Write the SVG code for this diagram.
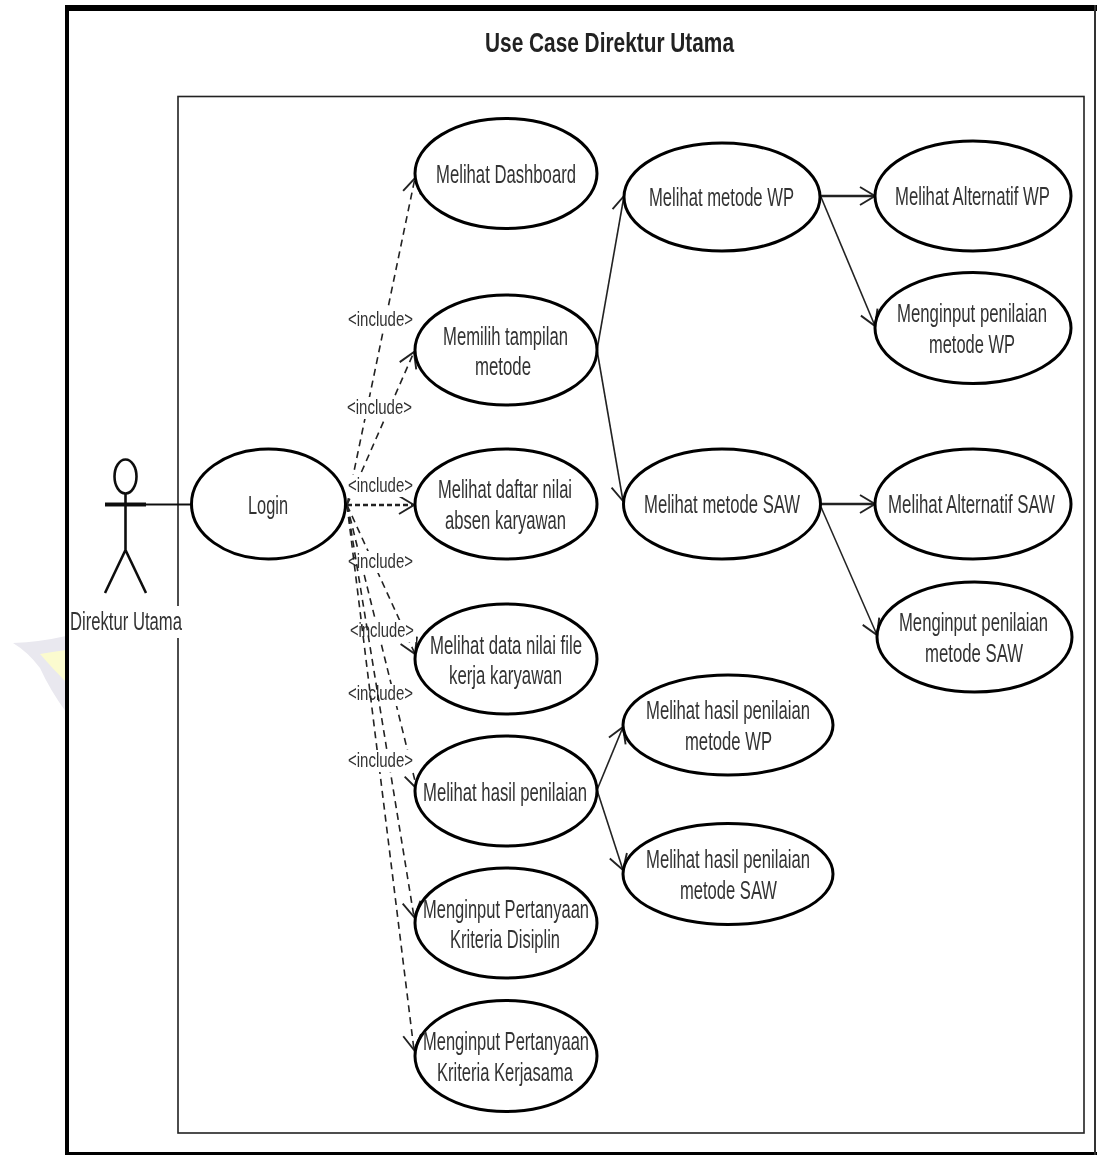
<svg xmlns="http://www.w3.org/2000/svg" width="1097" height="1155" viewBox="0 0 1097 1155">
<style>
text{font-family:"Liberation Sans",Arial,sans-serif;fill:#333}
.t{font-size:25px}
.lb{font-size:20px}
.title{font-size:27px;font-weight:bold;fill:#222}
.uc{fill:#fff;stroke:#000;stroke-width:3}
.s{fill:none;stroke:#222;stroke-width:1.6;marker-end:url(#open)}
.s2{stroke-width:2.6}
.d{fill:none;stroke:#222;stroke-width:1.6;stroke-dasharray:7 5;marker-end:url(#open)}
.d2{stroke-width:2.6;stroke-dasharray:5 3}
.bg{fill:#fff}
.ac{fill:none;stroke:#111;stroke-width:2.6}
</style>
<defs>
<marker id="open" markerUnits="userSpaceOnUse" markerWidth="20" markerHeight="24" refX="16" refY="12" orient="auto">
<path d="M1 3 L16 12 L1 21" fill="none" stroke="#222" stroke-width="1.9"/>
</marker>
<filter id="soft" filterUnits="userSpaceOnUse" x="0" y="0" width="1097" height="1155"><feGaussianBlur stdDeviation="0.45"/></filter>
</defs>
<rect width="1097" height="1155" fill="#fff"/>
<g filter="url(#soft)">
<g id="watermark">
<path d="M13 643 Q40 642 66 636 V712 Q50 690 40 668 Q28 652 13 643Z" fill="#e9e8ef"/>
<path d="M40 654 Q52 652 66 650 V682 Q52 668 40 654Z" fill="#fbfbcf"/>
</g>
<g id="frame">
<rect x="65" y="5" width="1032" height="6" fill="#000"/>
<rect x="65" y="5" width="4" height="1150" fill="#000"/>
<rect x="65" y="1152" width="1032" height="3" fill="#000"/>
<rect x="1094" y="5" width="2" height="1150" fill="#333"/>
<text class="title" x="485" y="52" textLength="249" lengthAdjust="spacingAndGlyphs">Use Case Direktur Utama</text>
<rect x="178" y="96.5" width="906" height="1036.5" fill="none" stroke="#222" stroke-width="1.6"/>
</g>
<g id="connectors">
<line x1="146" y1="504.5" x2="192" y2="504.5" stroke="#111" stroke-width="2"/>
<path class="d" d="M347 505 L415 178"/>
<path class="d" d="M347 505 L414 352"/>
<path class="d d2" d="M347 505 L414 505"/>
<path class="d" d="M347 505 L415 654"/>
<path class="d" d="M347 505 L417 789"/>
<path class="s" d="M597 350 L624 196"/>
<path class="s" d="M597 350 L623 501"/>
<path class="s s2" d="M821 196 L875 196"/>
<path class="s" d="M821 197 L875 326"/>
<path class="s s2" d="M821 504 L875 504"/>
<path class="s" d="M821 507 L877 635"/>
<path class="s" d="M597 790 L623 727"/>
<path class="s" d="M597 790 L623 870"/>
<g>
<rect class="bg" x="346" y="309" width="69" height="22"/><text class="lb" x="348" y="326" textLength="65" lengthAdjust="spacingAndGlyphs">&lt;include&gt;</text>
<rect class="bg" x="345" y="397" width="69" height="22"/><text class="lb" x="347" y="414" textLength="65" lengthAdjust="spacingAndGlyphs">&lt;include&gt;</text>
<rect class="bg" x="346" y="475" width="69" height="22"/><text class="lb" x="348" y="492" textLength="65" lengthAdjust="spacingAndGlyphs">&lt;include&gt;</text>
<rect class="bg" x="346" y="551" width="69" height="22"/><text class="lb" x="348" y="568" textLength="65" lengthAdjust="spacingAndGlyphs">&lt;include&gt;</text>
<rect class="bg" x="348" y="620" width="68" height="22"/><text class="lb" x="350" y="637" textLength="64" lengthAdjust="spacingAndGlyphs">&lt;include&gt;</text>
<rect class="bg" x="346" y="684" width="69" height="22"/><text class="lb" x="348" y="700" textLength="65" lengthAdjust="spacingAndGlyphs">&lt;include&gt;</text>
</g>
<path class="d" d="M347 505 L414 917"/>
<path class="d" d="M347 505 L414 1050"/>
<rect class="bg" x="346" y="750" width="69" height="22"/><text class="lb" x="348" y="767" textLength="65" lengthAdjust="spacingAndGlyphs">&lt;include&gt;</text>
</g>
<g id="actor">
<ellipse class="ac" cx="125.5" cy="476.5" rx="11" ry="17"/>
<path class="ac" d="M125.5 494 V550 M125.5 550 L105 593 M125.5 550 L146 593"/>
<line x1="105" y1="504.5" x2="146" y2="504.5" stroke="#111" stroke-width="4"/>
<rect class="bg" x="69" y="606" width="113" height="32"/>
<text class="t" x="70" y="630" textLength="112" lengthAdjust="spacingAndGlyphs">Direktur Utama</text>
</g>
<g id="login"><ellipse class="uc" cx="268.5" cy="504" rx="77" ry="55"/><text class="t" x="248" y="514" textLength="40" lengthAdjust="spacingAndGlyphs">Login</text></g>
<g id="dashboard"><ellipse class="uc" cx="506" cy="173.5" rx="91" ry="55"/><text class="t" x="436" y="183" textLength="140" lengthAdjust="spacingAndGlyphs">Melihat Dashboard</text></g>
<g id="tampilan"><ellipse class="uc" cx="506" cy="350" rx="91" ry="55"/><text class="t" x="443" y="345" textLength="125" lengthAdjust="spacingAndGlyphs">Memilih tampilan</text><text class="t" x="475" y="375" textLength="56" lengthAdjust="spacingAndGlyphs">metode</text></g>
<g id="absen"><ellipse class="uc" cx="506" cy="504" rx="91" ry="55"/><text class="t" x="438" y="498" textLength="134" lengthAdjust="spacingAndGlyphs">Melihat daftar nilai</text><text class="t" x="445" y="529" textLength="121" lengthAdjust="spacingAndGlyphs">absen karyawan</text></g>
<g id="file"><ellipse class="uc" cx="506" cy="659" rx="91" ry="55"/><text class="t" x="430" y="654" textLength="152" lengthAdjust="spacingAndGlyphs">Melihat data nilai file</text><text class="t" x="449" y="684" textLength="113" lengthAdjust="spacingAndGlyphs">kerja karyawan</text></g>
<g id="hasil"><ellipse class="uc" cx="506" cy="791" rx="91" ry="55"/><text class="t" x="423" y="801" textLength="164" lengthAdjust="spacingAndGlyphs">Melihat hasil penilaian</text></g>
<g id="disiplin"><ellipse class="uc" cx="506" cy="923" rx="91" ry="55"/><text class="t" x="423" y="918" textLength="166" lengthAdjust="spacingAndGlyphs">Menginput Pertanyaan</text><text class="t" x="450" y="948" textLength="110" lengthAdjust="spacingAndGlyphs">Kriteria Disiplin</text></g>
<g id="kerjasama"><ellipse class="uc" cx="506" cy="1056" rx="91" ry="55.5"/><text class="t" x="423" y="1050" textLength="166" lengthAdjust="spacingAndGlyphs">Menginput Pertanyaan</text><text class="t" x="437" y="1081" textLength="136" lengthAdjust="spacingAndGlyphs">Kriteria Kerjasama</text></g>
<g id="wp"><ellipse class="uc" cx="722" cy="197" rx="98" ry="54"/><text class="t" x="649" y="206" textLength="145" lengthAdjust="spacingAndGlyphs">Melihat metode WP</text></g>
<g id="saw"><ellipse class="uc" cx="722" cy="504" rx="98.5" ry="55"/><text class="t" x="644" y="513" textLength="156" lengthAdjust="spacingAndGlyphs">Melihat metode SAW</text></g>
<g id="altwp"><ellipse class="uc" cx="973" cy="196" rx="98" ry="55"/><text class="t" transform="translate(895 205) scale(.7 1)" textLength="221.4" lengthAdjust="spacingAndGlyphs">Melihat Alternatif WP</text></g>
<g id="inputwp"><ellipse class="uc" cx="973" cy="328" rx="98" ry="55.5"/><text class="t" transform="translate(897 322) scale(.7 1)" textLength="214.3" lengthAdjust="spacingAndGlyphs">Menginput penilaian</text><text class="t" x="929" y="353" textLength="86" lengthAdjust="spacingAndGlyphs">metode WP</text></g>
<g id="altsaw"><ellipse class="uc" cx="973" cy="504" rx="98" ry="55"/><text class="t" transform="translate(888 513) scale(.7 1)" textLength="238.6" lengthAdjust="spacingAndGlyphs">Melihat Alternatif SAW</text></g>
<g id="inputsaw"><ellipse class="uc" cx="974.5" cy="637" rx="97.5" ry="55"/><text class="t" transform="translate(899 631) scale(.7 1)" textLength="212.9" lengthAdjust="spacingAndGlyphs">Menginput penilaian</text><text class="t" x="925" y="662" textLength="98" lengthAdjust="spacingAndGlyphs">metode SAW</text></g>
<g id="hasilwp"><ellipse class="uc" cx="728" cy="725" rx="105" ry="50"/><text class="t" x="646" y="719" textLength="164" lengthAdjust="spacingAndGlyphs">Melihat hasil penilaian</text><text class="t" x="685" y="750" textLength="87" lengthAdjust="spacingAndGlyphs">metode WP</text></g>
<g id="hasilsaw"><ellipse class="uc" cx="728" cy="874" rx="105" ry="50.5"/><text class="t" x="646" y="868" textLength="164" lengthAdjust="spacingAndGlyphs">Melihat hasil penilaian</text><text class="t" x="680" y="899" textLength="97" lengthAdjust="spacingAndGlyphs">metode SAW</text></g>
</g>
</svg>
